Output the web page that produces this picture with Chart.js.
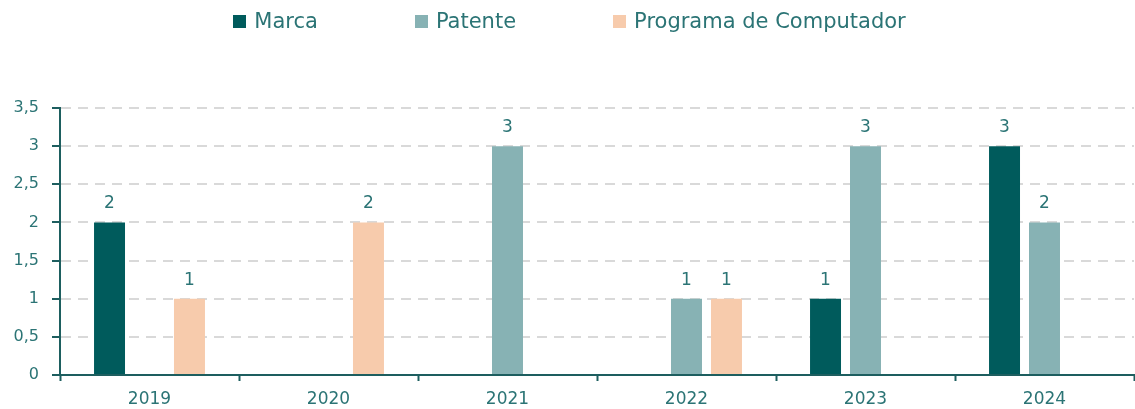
<!DOCTYPE html>
<html>
<head>
<meta charset="utf-8">
<script src="https://cdn.jsdelivr.net/npm/chart.js@4"></script>
<style>
  body { margin: 0; background: #fff; }
  #wrap { position: relative; width: 1135px; height: 409px; }
  #legend { position: absolute; top: 9px; left: 2px; width: 1135px; display: flex; justify-content: center; gap: 97px;
            font-family: "DejaVu Sans", sans-serif; font-size: 21px; color: #2B7475; }
  #legend .item { display: flex; align-items: center; }
  #legend .box { width: 13px; height: 13px; margin-right: 8px; }
</style>
</head>
<body>
<div id="wrap">
  <canvas id="chart" width="1135" height="409"></canvas>
  <div id="legend"></div>
</div>
<script>
const years = ["2019", "2020", "2021", "2022", "2023", "2024"];
const marca = [2, null, null, null, 1, 3];
const patente = [null, null, 3, 1, 3, 2];
const programa = [1, 2, null, 1, null, null];
const seriesNames = ["Marca", "Patente", "Programa de Computador"];
const seriesColors = ["#005B5C", "#87B2B4", "#F7CBAC"];

const teal = "#2B7475";
const axisColor = "#1D5E5F";

// valores encima de cada barra
const barLabels = {
  id: "barLabels",
  afterDatasetsDraw(chart) {
    const ctx = chart.ctx;
    ctx.save();
    ctx.font = "17px 'DejaVu Sans'";
    ctx.fillStyle = teal;
    ctx.textAlign = "center";
    ctx.textBaseline = "bottom";
    chart.data.datasets.forEach((ds, i) => {
      chart.getDatasetMeta(i).data.forEach((bar, j) => {
        const v = ds.data[j];
        if (v == null) return;
        ctx.fillText(String(v), bar.x, bar.y - 10);
      });
    });
    ctx.restore();
  }
};

const chart = new Chart(document.getElementById("chart"), {
  type: "bar",
  data: {
    labels: years,
    datasets: [marca, patente, programa].map((d, i) => ({
      label: seriesNames[i],
      data: d,
      backgroundColor: seriesColors[i],
      categoryPercentage: 0.67,
      barPercentage: 0.775
    }))
  },
  options: {
    responsive: false,
    animation: false,
    layout: { padding: { top: 108, right: 1, left: 0, bottom: 0 } },
    plugins: { legend: { display: false }, tooltip: { enabled: false } },
    scales: {
      x: {
        afterFit(s) { s.height = 34; },
        border: { color: axisColor, width: 2 },
        grid: { drawOnChartArea: false, tickLength: 6, tickColor: axisColor, tickWidth: 2 },
        ticks: { color: teal, font: { family: "DejaVu Sans", size: 17 }, padding: 8 }
      },
      y: {
        min: 0,
        max: 3.5,
        afterFit(s) { s.width = 60; },
        border: { color: axisColor, width: 2, dash: [10, 7] },
        grid: { color: "#D9D9D9", lineWidth: 2, tickLength: 8, tickColor: axisColor, tickWidth: 2, tickBorderDash: [] },
        ticks: {
          stepSize: 0.5,
          color: teal,
          font: { family: "DejaVu Sans", size: 16 },
          padding: 13,
          callback: v => String(v).replace(".", ",")
        }
      }
    }
  },
  plugins: [barLabels]
});

// leyenda HTML
const legendEl = document.getElementById("legend");
chart.data.datasets.forEach(ds => {
  const item = document.createElement("div");
  item.className = "item";
  item.innerHTML = `<span class="box" style="background:${ds.backgroundColor}"></span><span>${ds.label}</span>`;
  legendEl.appendChild(item);
});
</script>
</body>
</html>
